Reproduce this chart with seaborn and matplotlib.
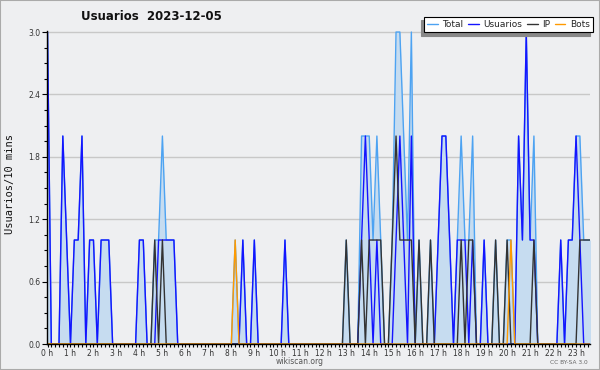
import numpy as np
import pandas as pd
import matplotlib
matplotlib.use("Agg")
import matplotlib.pyplot as plt
from matplotlib.lines import Line2D
from matplotlib.patches import Rectangle
from matplotlib.ticker import MultipleLocator
import seaborn as sns

# values per 10 minutes, 144 slots (two hours per row)
total = [
    3, 0, 0, 0, 2, 1, 0, 1, 1, 2, 0, 1,
    1, 0, 1, 1, 1, 0, 0, 0, 0, 0, 0, 0,
    1, 1, 0, 0, 1, 1, 2, 1, 1, 1, 0, 0,
    0, 0, 0, 0, 0, 0, 0, 0, 0, 0, 0, 0,
    0, 1, 0, 1, 0, 0, 1, 0, 0, 0, 0, 0,
    0, 0, 1, 0, 0, 0, 0, 0, 0, 0, 0, 0,
    0, 0, 0, 0, 0, 0, 1, 0, 0, 0, 2, 2,
    2, 1, 2, 1, 0, 0, 1, 3, 3, 2, 1, 3,
    0, 1, 0, 0, 1, 0, 1, 2, 2, 1, 0, 1,
    2, 1, 1, 2, 0, 0, 1, 0, 0, 1, 0, 0,
    1, 1, 0, 2, 1, 3, 1, 2, 0, 0, 0, 0,
    0, 0, 1, 0, 1, 1, 2, 2, 1, 1, 1, 1,
]
usuarios = [
    3, 0, 0, 0, 2, 1, 0, 1, 1, 2, 0, 1,
    1, 0, 1, 1, 1, 0, 0, 0, 0, 0, 0, 0,
    1, 1, 0, 0, 0, 1, 1, 1, 1, 1, 0, 0,
    0, 0, 0, 0, 0, 0, 0, 0, 0, 0, 0, 0,
    0, 0, 0, 1, 0, 0, 1, 0, 0, 0, 0, 0,
    0, 0, 1, 0, 0, 0, 0, 0, 0, 0, 0, 0,
    0, 0, 0, 0, 0, 0, 0, 0, 0, 0, 1, 2,
    1, 0, 1, 0, 0, 0, 0, 1, 2, 1, 0, 2,
    0, 0, 0, 0, 0, 0, 1, 2, 2, 1, 0, 1,
    1, 1, 0, 1, 0, 0, 1, 0, 0, 0, 0, 0,
    0, 0, 0, 2, 1, 3, 1, 1, 0, 0, 0, 0,
    0, 0, 1, 0, 1, 1, 2, 1, 0, 0, 0, 0,
]
ip = [
    0, 0, 0, 0, 0, 0, 0, 0, 0, 0, 0, 0,
    0, 0, 0, 0, 0, 0, 0, 0, 0, 0, 0, 0,
    0, 0, 0, 0, 1, 0, 1, 0, 0, 0, 0, 0,
    0, 0, 0, 0, 0, 0, 0, 0, 0, 0, 0, 0,
    0, 0, 0, 0, 0, 0, 0, 0, 0, 0, 0, 0,
    0, 0, 0, 0, 0, 0, 0, 0, 0, 0, 0, 0,
    0, 0, 0, 0, 0, 0, 1, 0, 0, 0, 1, 0,
    1, 1, 1, 1, 0, 0, 1, 2, 1, 1, 1, 1,
    0, 1, 0, 0, 1, 0, 0, 0, 0, 0, 0, 0,
    1, 0, 1, 1, 0, 0, 0, 0, 0, 1, 0, 0,
    1, 0, 0, 0, 0, 0, 0, 1, 0, 0, 0, 0,
    0, 0, 0, 0, 0, 0, 0, 1, 1, 1, 1, 1,
]
bots = [
    0, 0, 0, 0, 0, 0, 0, 0, 0, 0, 0, 0,
    0, 0, 0, 0, 0, 0, 0, 0, 0, 0, 0, 0,
    0, 0, 0, 0, 0, 0, 0, 0, 0, 0, 0, 0,
    0, 0, 0, 0, 0, 0, 0, 0, 0, 0, 0, 0,
    0, 1, 0, 0, 0, 0, 0, 0, 0, 0, 0, 0,
    0, 0, 0, 0, 0, 0, 0, 0, 0, 0, 0, 0,
    0, 0, 0, 0, 0, 0, 0, 0, 0, 0, 0, 0,
    0, 0, 0, 0, 0, 0, 0, 0, 0, 0, 0, 0,
    0, 0, 0, 0, 0, 0, 0, 0, 0, 0, 0, 0,
    0, 0, 0, 0, 0, 0, 0, 0, 0, 0, 0, 0,
    0, 1, 0, 0, 0, 0, 0, 0, 0, 0, 0, 0,
    0, 0, 0, 0, 0, 0, 0, 0, 0, 0, 0, 0,
]
series_names = ["Total", "Usuarios", "IP", "Bots"]
hour_labels = [f"{h} h" for h in range(24)]
y_ticks = [0.0, 0.6, 1.2, 1.8, 2.4, 3.0]

BG = "#eeeff1"
COLORS = {"Total": "#4da3f2", "Usuarios": "#1414ff",
          "IP": "#333333", "Bots": "#ff9a00"}
FILL = "#c6dcf0"

sns.set_theme(style="white")
plt.rcParams["font.family"] = ["DejaVu Sans"]

hours = np.arange(len(total)) / 6
df = pd.DataFrame({"hora": hours, "Total": total, "Usuarios": usuarios,
                   "IP": ip, "Bots": bots})
long_df = df.melt(id_vars="hora", var_name="serie", value_name="valor")

fig = plt.figure(figsize=(6, 3.7), dpi=100, facecolor=BG)
ax = fig.add_axes([46.7 / 600, 1 - 344 / 370,
                   (590 - 46.7) / 600, (344 - 31) / 370])
ax.set_facecolor(BG)

ax.fill_between(df["hora"], df["Total"], color=FILL, lw=0, zorder=1)
for name in series_names:
    sns.lineplot(data=long_df[long_df["serie"] == name], x="hora", y="valor",
                 color=COLORS[name], lw=1, estimator=None, legend=False,
                 ax=ax, zorder=2)

ax.set_xlim(-0.035, 23.607)
ax.set_ylim(0, 3.01)
ax.set_xticks(range(24))
ax.set_xticklabels(hour_labels)
ax.xaxis.set_minor_locator(MultipleLocator(1 / 6))
ax.set_yticks(y_ticks)
ax.set_yticklabels([f"{v:.1f}" for v in y_ticks])
ax.yaxis.set_minor_locator(MultipleLocator(0.15))
ax.set_xlabel("")
ax.set_ylabel("")

ax.tick_params(axis="both", which="both", direction="out", color="black",
               width=0.8, labelsize=5.5, labelcolor="#333333")
ax.tick_params(axis="x", which="both", bottom=True, length=2.5, pad=1)
ax.tick_params(axis="y", which="major", left=True, length=3.5, pad=1)
ax.tick_params(axis="y", which="minor", left=True, length=2.5)

ax.grid(axis="y", color="#c8c8c8", lw=1)
ax.set_axisbelow(True)
ax.spines["top"].set_visible(False)
ax.spines["right"].set_visible(False)
for side in ["left", "bottom"]:
    ax.spines[side].set_color("black")
    ax.spines[side].set_linewidth(1)

fig.text(151 / 600, 1 - 17 / 370, "Usuarios  2023-12-05", ha="center",
         va="center", fontsize=8.5, fontweight="bold", color="#111111")
fig.text(10 / 600, 1 - 184 / 370, "Usuarios/10 mins", rotation=90,
         ha="center", va="center", fontsize=7.5, family="DejaVu Sans Mono",
         color="#111111")
fig.text(0.5, 1 - 362 / 370, "wikiscan.org", ha="center", va="center",
         fontsize=5.5, color="#555555")
fig.text(569 / 600, 1 - 362 / 370, "CC BY-SA 3.0", ha="center", va="center",
         fontsize=4.2, color="#666666")

handles = [Line2D([], [], color=COLORS[n], lw=1) for n in series_names]
leg = fig.legend(handles, series_names, loc="upper right",
                 bbox_to_anchor=(593 / 600, 1 - 17 / 370), ncol=4,
                 frameon=True, fancybox=False, edgecolor="black",
                 facecolor="white", framealpha=1, fontsize=6.5,
                 handlelength=1.2, handletextpad=0.5, columnspacing=0.5,
                 borderpad=0.35, borderaxespad=0,
                 shadow={"ox": -2.4, "oy": -2.4, "facecolor": "#888888",
                         "edgecolor": "#888888", "alpha": 1})
leg.get_frame().set_linewidth(0.8)

fig.patches.append(Rectangle((0, 0), 1, 1, transform=fig.transFigure,
                             fill=False, edgecolor="#aaaaaa", lw=1.5))

fig.savefig("out.png", dpi=100, facecolor=BG)
plt.close(fig)
